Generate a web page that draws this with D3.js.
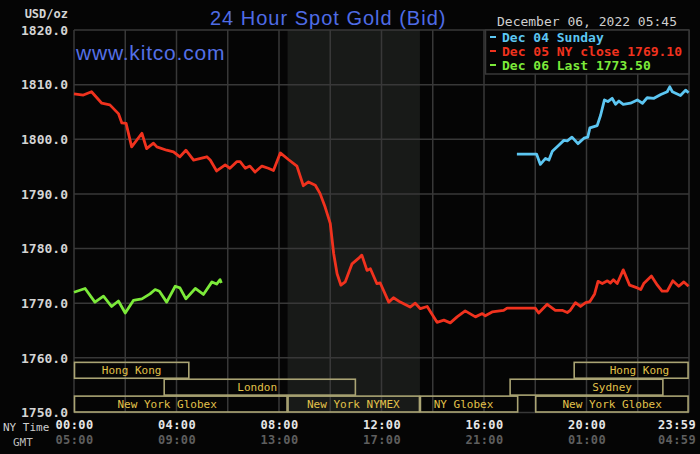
<!DOCTYPE html>
<html lang="en">
<head>
    <meta charset="UTF-8">
    <script src="https://cdn.jsdelivr.net/npm/d3@7"></script>
    <title>24 Hour Spot Gold</title>
    <style>
        html, body { margin: 0; padding: 0; background: #050505; }
        svg { display: block; }
    </style>
</head>
<body>
    <svg width="700" height="454"></svg>

    <script>
        // ---- data (NY time, USD/oz) ----
        const dec04Time = ['17:17','18:03','18:12','18:24','18:32','18:40','18:55','19:07','19:15','19:26','19:40','19:54','20:03','20:08','20:25','20:33','20:42','20:50','21:00','21:08','21:16','21:26','21:43','21:59','22:11','22:22','22:38','22:54','23:09','23:15','23:21','23:40','23:52','23:59']
        const dec04Value = [1797.3,1797.3,1795.4,1796.5,1796.2,1797.8,1798.9,1799.8,1799.7,1800.4,1799.2,1800.2,1800.4,1802.1,1802.5,1804.4,1807.2,1806.9,1807.5,1806.4,1807.0,1806.4,1806.6,1807.2,1806.6,1807.6,1807.5,1808.2,1808.7,1809.6,1808.7,1808.0,1809.0,1808.5]

        const dec05Time = ['00:00','00:22','00:41','01:05','01:24','01:44','01:52','02:02','02:15','02:39','02:50','03:06','03:14','03:37','03:53','04:08','04:22','04:40','05:11','05:19','05:34','05:54','06:05','06:21','06:29','06:41','06:52','07:04','07:20','07:35','07:47','08:03','08:22','08:42','08:57','09:09','09:25','09:36','09:48','10:00','10:08','10:16','10:25','10:35','10:51','11:06','11:14','11:26','11:34','11:49','11:57','12:17','12:28','12:44','13:07','13:19','13:31','13:47','14:10','14:26','14:41','14:57','15:16','15:40','15:56','16:03','16:19','16:46','16:54','18:00','18:08','18:28','18:47','19:03','19:15','19:22','19:34','19:46','19:58','20:08','20:19','20:27','20:37','20:49','20:56','21:03','21:12','21:26','21:41','21:59','22:07','22:14','22:32','22:46','22:57','23:09','23:22','23:36','23:48','23:59']
        const dec05Value = [1808.3,1808.1,1808.7,1806.6,1806.3,1804.7,1803.0,1802.9,1798.6,1801.1,1798.3,1799.3,1798.6,1798.0,1797.7,1796.8,1798.0,1796.2,1796.8,1796.2,1794.2,1795.3,1794.7,1795.9,1795.9,1794.7,1795.1,1794.0,1795.1,1794.7,1794.3,1797.5,1796.3,1795.1,1791.5,1792.2,1791.6,1790.1,1787.6,1784.6,1779.1,1775.4,1773.3,1773.9,1777.2,1778.2,1778.8,1776.0,1776.3,1773.6,1773.7,1770.2,1771.0,1770.2,1769.3,1770.0,1769.0,1769.4,1766.5,1766.9,1766.4,1767.5,1768.6,1767.5,1768.1,1767.7,1768.4,1768.7,1769.1,1769.1,1768.2,1769.8,1768.7,1768.7,1768.3,1768.7,1770.1,1769.4,1770.1,1770.3,1771.7,1774.0,1773.6,1774.1,1773.7,1774.3,1773.6,1776.1,1773.3,1772.8,1772.5,1773.6,1775.0,1773.3,1772.2,1772.2,1774.1,1773.1,1773.9,1773.1]

        const dec06Time = ['00:00','00:26','00:49','01:09','01:28','01:44','02:00','02:19','02:39','02:58','03:10','03:20','03:37','03:57','04:08','04:22','04:44','05:03','05:23','05:34','05:42','05:45']
        const dec06Value = [1772.0,1772.7,1770.2,1771.3,1769.4,1770.4,1768.2,1770.5,1770.8,1771.7,1772.5,1772.2,1770.2,1773.1,1772.8,1770.8,1772.7,1771.6,1773.9,1773.5,1774.3,1773.7]

        const legendLabels = ['Dec 04 Sunday', 'Dec 05 NY close 1769.10', 'Dec 06 Last 1773.50']
        const seriesColors = ['#5cc6f2', '#f0321e', '#7cea3a']

        const yTicks = [1750, 1760, 1770, 1780, 1790, 1800, 1810, 1820]
        const nyTickTimes = ['00:00','04:00','08:00','12:00','16:00','20:00','23:59']
        const gmtTickLabels = ['05:00','09:00','13:00','17:00','21:00','01:00','04:59']

        // trading sessions: row 0 top, row 2 bottom
        const sessionNames = ['Hong Kong','Hong Kong','London','Sydney','New York Globex','New York NYMEX','NY Globex','New York Globex']
        const sessionRow   = [0, 0, 1, 1, 2, 2, 2, 2]
        const sessionStart = ['00:00','19:30','03:30','17:00','00:00','08:20','13:30','18:00']
        const sessionEnd   = ['04:30','23:59','11:00','23:00','08:20','13:30','17:20','23:59']
        const sessionLabelAt = ['02:15','22:04','07:09','21:00','03:38','10:54','15:12','21:00']

        const nymexHours = ['08:20', '13:30']

        // ---- setup ----
        const svg = d3.select('svg')
        const mono = 'DejaVu Sans Mono, monospace'
        const gridColor = '#383838'

        const plot = { left: 74, right: 689, top: 30, bottom: 412.5 }

        const toMin = s => { const p = s.split(':'); return +p[0] * 60 + +p[1] }

        const x = d3.scaleLinear().domain([0, 1440]).range([plot.left, plot.right])
        const y = d3.scaleLinear().domain([1750, 1820]).range([plot.bottom, plot.top])

        svg.append('rect').attr('width', 700).attr('height', 454).attr('fill', '#050505')

        // NYMEX shaded hours
        svg.append('rect')
            .attr('x', x(toMin(nymexHours[0])))
            .attr('y', plot.top)
            .attr('width', x(toMin(nymexHours[1])) - x(toMin(nymexHours[0])))
            .attr('height', plot.bottom - plot.top)
            .attr('fill', '#181a18')

        // grid
        const grid = svg.append('g').attr('stroke', gridColor).attr('stroke-width', 1.5)
        grid.selectAll('.h').data(yTicks).enter().append('line')
            .attr('x1', plot.left).attr('x2', plot.right)
            .attr('y1', d => y(d)).attr('y2', d => y(d))
        grid.selectAll('.v').data(d3.range(0, 1441, 120)).enter().append('line')
            .attr('x1', d => x(d)).attr('x2', d => x(d))
            .attr('y1', plot.top).attr('y2', plot.bottom)

        // sessions
        const rowH = (plot.bottom - y(1760) - 4) / 3
        const rowTop = r => y(1760) + 4 + r * rowH
        const sess = svg.append('g')
        sessionNames.forEach((name, i) => {
            const x0 = x(toMin(sessionStart[i])), x1 = x(toMin(sessionEnd[i]))
            sess.append('rect')
                .attr('x', x0 + 0.5).attr('y', rowTop(sessionRow[i]) + 0.5)
                .attr('width', x1 - x0 - 1).attr('height', rowH - 1)
                .attr('fill', 'none').attr('stroke', '#aaa474').attr('stroke-width', 1.6)
            sess.append('text')
                .attr('x', x(toMin(sessionLabelAt[i])))
                .attr('y', rowTop(sessionRow[i]) + rowH / 2 + 4)
                .attr('text-anchor', 'middle')
                .attr('font-family', mono).attr('font-size', 11)
                .attr('fill', '#e2c24a')
                .text(name)
        })

        // lines
        const line = d3.line().x(d => x(d.t)).y(d => y(d.v))
        const series = [
            dec04Time.map((t, i) => ({ t: toMin(t), v: dec04Value[i] })),
            dec05Time.map((t, i) => ({ t: toMin(t), v: dec05Value[i] })),
            dec06Time.map((t, i) => ({ t: toMin(t), v: dec06Value[i] }))
        ]
        series.forEach((s, i) => {
            svg.append('path').datum(s)
                .attr('d', line)
                .attr('fill', 'none')
                .attr('stroke', seriesColors[i])
                .attr('stroke-width', 2.8)
                .attr('stroke-linejoin', 'round')
        })

        // y axis
        const yAxis = svg.append('g')
            .attr('transform', `translate(${plot.left},0)`)
            .call(d3.axisLeft(y).tickValues(yTicks).tickFormat(d3.format('.1f')).tickSize(0).tickPadding(6))
        yAxis.select('.domain').remove()
        yAxis.selectAll('text')
            .attr('font-family', mono).attr('font-size', 13).attr('font-weight', 'bold')
            .attr('fill', '#d4d4d4')

        svg.append('text').attr('x', 68).attr('y', 18).attr('text-anchor', 'end')
            .attr('font-family', mono).attr('font-size', 12).attr('font-weight', 'bold')
            .attr('fill', '#d4d4d4').text('USD/oz')

        // x axis: NY time and GMT rows
        const xAxis = svg.append('g')
            .attr('transform', `translate(0,${plot.bottom})`)
            .call(d3.axisBottom(x).tickValues(nyTickTimes.map(toMin))
                .tickFormat((d, i) => nyTickTimes[i]).tickSize(0).tickPadding(8))
        xAxis.select('.domain').remove()
        xAxis.selectAll('text')
            .attr('font-family', mono).attr('font-size', 12).attr('font-weight', 'bold')
            .attr('letter-spacing', 0.4).attr('fill', '#e6e6e6')

        const gmtAxis = svg.append('g')
            .attr('transform', `translate(0,${plot.bottom + 15})`)
            .call(d3.axisBottom(x).tickValues(nyTickTimes.map(toMin))
                .tickFormat((d, i) => gmtTickLabels[i]).tickSize(0).tickPadding(8))
        gmtAxis.select('.domain').remove()
        gmtAxis.selectAll('text')
            .attr('font-family', mono).attr('font-size', 12).attr('font-weight', 'bold')
            .attr('letter-spacing', 0.4).attr('fill', '#5e5e5e')

        // last label sits flush to the right edge
        ;[xAxis, gmtAxis].forEach(a => {
            a.selectAll('.tick').filter((d, i) => i === nyTickTimes.length - 1)
                .select('text').attr('text-anchor', 'end').attr('dx', 7)
        })

        svg.append('text').attr('x', 3).attr('y', 431)
            .attr('font-family', mono).attr('font-size', 11).attr('fill', '#cfcfcf').text('NY Time')
        svg.append('text').attr('x', 13).attr('y', 446)
            .attr('font-family', mono).attr('font-size', 11).attr('fill', '#bdbdbd').text('GMT')

        // legend
        svg.append('rect')
            .attr('x', 485.5).attr('y', plot.top)
            .attr('width', plot.right - 485.5).attr('height', 44)
            .attr('fill', '#050505').attr('stroke', gridColor).attr('stroke-width', 1.5)
        legendLabels.forEach((lab, i) => {
            svg.append('line')
                .attr('x1', 490).attr('x2', 496)
                .attr('y1', 37 + i * 14).attr('y2', 37 + i * 14)
                .attr('stroke', seriesColors[i]).attr('stroke-width', 2)
            svg.append('text')
                .attr('x', 502).attr('y', 41.5 + i * 14)
                .attr('font-family', mono).attr('font-size', 13).attr('font-weight', 'bold')
                .attr('fill', seriesColors[i])
                .text(lab)
        })

        svg.append('text').attr('x', 677).attr('y', 26).attr('text-anchor', 'end')
            .attr('font-family', mono).attr('font-size', 13)
            .attr('fill', '#cfcfcf').text('December 06, 2022 05:45')

        // titles
        svg.append('text').attr('x', 210).attr('y', 25)
            .attr('font-family', 'Liberation Sans, Arial, sans-serif').attr('font-size', 20)
            .attr('letter-spacing', 1)
            .attr('fill', '#4f6ce6').text('24 Hour Spot Gold (Bid)')
        svg.append('text').attr('x', 76).attr('y', 60)
            .attr('font-family', 'Liberation Sans, Arial, sans-serif').attr('font-size', 21)
            .attr('letter-spacing', 0.8)
            .attr('fill', '#5470e6').text('www.kitco.com')
    </script>
</body>
</html>
